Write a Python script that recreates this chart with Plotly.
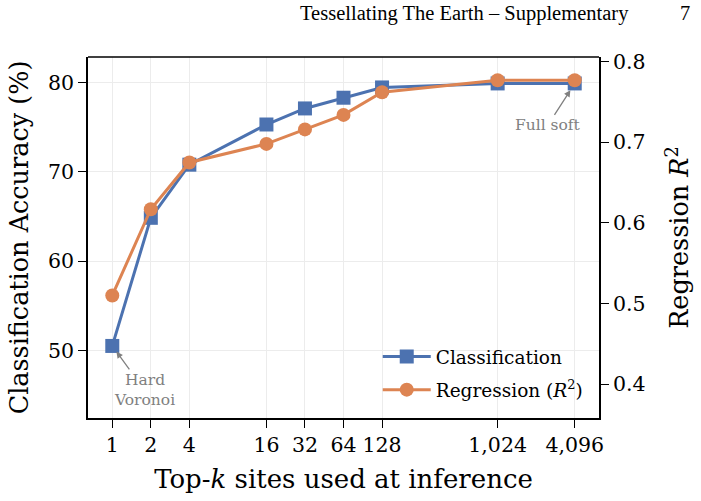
import numpy as np
import plotly.graph_objects as go

k_values = [1, 2, 4, 16, 32, 64, 128, 1024, 4096]
tick_labels = ["1", "2", "4", "16", "32", "64", "128", "1,024", "4,096"]
classification_acc = [50.5, 64.85, 70.8, 75.3, 77.1, 78.3, 79.45, 79.9, 79.9]
regression_r2 = [0.510, 0.617, 0.675, 0.698, 0.716, 0.734, 0.762, 0.777, 0.777]

BLUE = "#4C72B0"
ORANGE = "#DD8452"
FONT = "DejaVu Serif"

fig = go.Figure()
fig.add_trace(go.Scatter(
    x=k_values, y=classification_acc, name="Classification", mode="lines+markers",
    line=dict(color=BLUE, width=3), marker=dict(symbol="square", size=14, color=BLUE),
    legendgroup="a", yaxis="y"))
fig.add_trace(go.Scatter(
    x=k_values, y=regression_r2, name="Regression (<i>R</i><sup>2</sup>)", mode="lines+markers",
    line=dict(color=ORANGE, width=3), marker=dict(symbol="circle", size=14, color=ORANGE),
    legendgroup="b", yaxis="y2"))

axis_common = dict(showline=True, linecolor="black", linewidth=1.6, mirror=False,
                   ticks="outside", ticklen=8, tickwidth=1.4, tickcolor="black",
                   tickfont=dict(family=FONT, size=20.5, color="black"), zeroline=False)

fig.update_layout(
    width=701, height=501,
    margin=dict(l=88, r=102, t=57, b=81),
    paper_bgcolor="white", plot_bgcolor="white",
    font=dict(family=FONT, color="black"),
    showlegend=True,
    legend=dict(x=0.567, y=0.123, xanchor="left", yanchor="middle",
                bgcolor="rgba(0,0,0,0)", font=dict(family=FONT, size=18.5, color="black"),
                traceorder="grouped", tracegroupgap=6, itemwidth=48),
    xaxis=dict(type="log", range=[-0.63 * np.log10(2), 12.63 * np.log10(2)],
               tickvals=k_values, ticktext=tick_labels,
               showgrid=True, gridcolor="#ececec", gridwidth=1,
               title=dict(text="Top-<i>k</i> sites used at inference",
                          font=dict(family=FONT, size=26), standoff=13),
               **axis_common),
    yaxis=dict(range=[42.43, 82.86], tickvals=[50, 60, 70, 80],
               showgrid=True, gridcolor="#ececec", gridwidth=1,
               title=dict(text="Classification Accuracy (%)",
                          font=dict(family=FONT, size=25.5), standoff=12),
               **axis_common),
    yaxis2=dict(range=[0.358, 0.8058], tickvals=[0.4, 0.5, 0.6, 0.7, 0.8],
                ticktext=["0.4", "0.5", "0.6", "0.7", "0.8"],
                overlaying="y", side="right", showgrid=False,
                title=dict(text="Regression <i>R</i><sup>2</sup>",
                           font=dict(family=FONT, size=25.5), standoff=26),
                **axis_common),
)

# top frame line
fig.add_shape(type="line", xref="paper", yref="paper", x0=0, x1=1, y0=1, y1=1,
              line=dict(color="black", width=1.6))

fig.add_annotation(x=np.log10(k_values[0]), y=classification_acc[0], xref="x", yref="y",
                   text="Hard<br>Voronoi", showarrow=True, ax=32, ay=44,
                   arrowhead=2, arrowsize=1, arrowwidth=1.3, arrowcolor="#808080", standoff=7,
                   font=dict(family=FONT, size=15.5, color="#808080"))
fig.add_annotation(x=np.log10(k_values[-1]), y=classification_acc[-1], xref="x", yref="y",
                   text="Full soft", showarrow=True, ax=-27, ay=42,
                   arrowhead=2, arrowsize=1, arrowwidth=1.3, arrowcolor="#808080", standoff=8,
                   font=dict(family=FONT, size=15.5, color="#808080"))

# page header
fig.add_annotation(xref="paper", yref="paper", x=(464 - 88) / 511, y=(420 - 13) / 363,
                   text="Tessellating The Earth – Supplementary", showarrow=False,
                   xanchor="center", yanchor="middle",
                   font=dict(family="Liberation Serif", size=20.5, color="black"))
fig.add_annotation(xref="paper", yref="paper", x=(685 - 88) / 511, y=(420 - 13) / 363,
                   text="7", showarrow=False, xanchor="center", yanchor="middle",
                   font=dict(family="Liberation Serif", size=20.5, color="black"))

fig.write_html("out.html")
